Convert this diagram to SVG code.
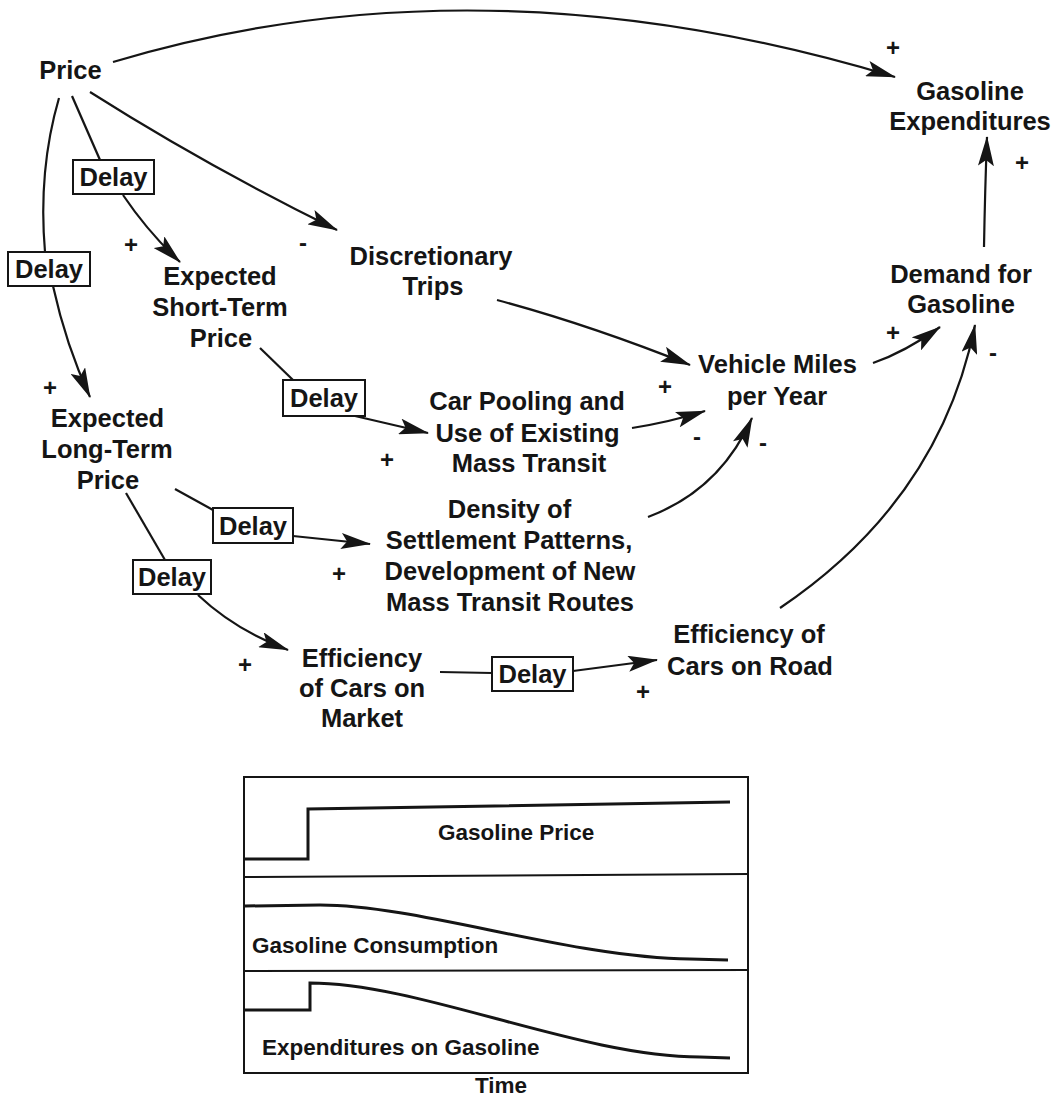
<svg xmlns="http://www.w3.org/2000/svg" width="1058" height="1097" viewBox="0 0 1058 1097">
<style>
text{font-family:"Liberation Sans",Arial,Helvetica,sans-serif;font-weight:bold;fill:#151515}
.n{font-size:25.5px;text-anchor:middle}
.s{font-size:24px;text-anchor:middle}
.c{font-size:22.5px}
.ln{fill:none;stroke:#151515;stroke-width:2.2}
.bx{fill:#fff;stroke:#151515;stroke-width:2}
.fr{fill:none;stroke:#151515;stroke-width:2}
.cv{fill:none;stroke:#151515;stroke-width:3}
</style>
<defs>
<marker id="ah" viewBox="0 0 30 16" refX="29" refY="8" markerWidth="30" markerHeight="16" markerUnits="userSpaceOnUse" orient="auto">
<path d="M0,0 L30,8 L0,16 L6,8 z" fill="#151515"/>
</marker>
</defs>
<rect width="1058" height="1097" fill="#fff"/>

<g id="connectors">
<path class="ln" d="M113,62 Q480,-48 895,77" marker-end="url(#ah)"/>
<path class="ln" d="M72,96 L100,160"/>
<path class="ln" d="M123,195 Q148,232 180,262" marker-end="url(#ah)"/>
<path class="ln" d="M59,98 Q38,170 45,252"/>
<path class="ln" d="M53,286 Q66,345 90,397" marker-end="url(#ah)"/>
<path class="ln" d="M90,92 Q205,165 337,230" marker-end="url(#ah)"/>
<path class="ln" d="M260,348 L293,380"/>
<path class="ln" d="M355,416 L428,433" marker-end="url(#ah)"/>
<path class="ln" d="M497,300 Q590,325 690,365" marker-end="url(#ah)"/>
<path class="ln" d="M632,428 Q670,422 705,411" marker-end="url(#ah)"/>
<path class="ln" d="M648,517 Q720,490 752,418" marker-end="url(#ah)"/>
<path class="ln" d="M873,363 Q905,352 940,327" marker-end="url(#ah)"/>
<path class="ln" d="M780,608 Q940,500 975,325" marker-end="url(#ah)"/>
<path class="ln" d="M984,247 Q985,190 987,137" marker-end="url(#ah)"/>
<path class="ln" d="M175,489 L213,510"/>
<path class="ln" d="M293,536 L370,544" marker-end="url(#ah)"/>
<path class="ln" d="M126,493 L165,560"/>
<path class="ln" d="M198,595 Q235,630 288,650" marker-end="url(#ah)"/>
<path class="ln" d="M440,672 L492,673"/>
<path class="ln" d="M573,671 L657,660" marker-end="url(#ah)"/>
</g>

<g id="signs">
<text class="s" x="893" y="56">+</text>
<text class="s" x="1022" y="171">+</text>
<text class="s" x="131" y="253">+</text>
<text class="s" x="303" y="251">-</text>
<text class="s" x="50" y="396">+</text>
<text class="s" x="665" y="395">+</text>
<text class="s" x="387" y="468">+</text>
<text class="s" x="697" y="445">-</text>
<text class="s" x="763" y="451">-</text>
<text class="s" x="893" y="341">+</text>
<text class="s" x="993" y="361">-</text>
<text class="s" x="339" y="582">+</text>
<text class="s" x="245" y="673">+</text>
<text class="s" x="643" y="700">+</text>
</g>

<g id="price"><text class="n" x="70.5" y="79">Price</text></g>
<g id="gasoline-expenditures"><text class="n" x="970" y="100">Gasoline</text><text class="n" x="970" y="130">Expenditures</text></g>
<g id="demand-for-gasoline"><text class="n" x="961" y="283">Demand for</text><text class="n" x="961" y="313">Gasoline</text></g>
<g id="vehicle-miles"><text class="n" x="777.5" y="373">Vehicle Miles</text><text class="n" x="777" y="405">per Year</text></g>
<g id="discretionary-trips"><text class="n" x="431" y="265">Discretionary</text><text class="n" x="433" y="295">Trips</text></g>
<g id="expected-short-term-price"><text class="n" x="220" y="285">Expected</text><text class="n" x="220" y="316">Short-Term</text><text class="n" x="221" y="347">Price</text></g>
<g id="car-pooling"><text class="n" x="527" y="410">Car Pooling and</text><text class="n" x="527.5" y="442">Use of Existing</text><text class="n" x="529" y="472">Mass Transit</text></g>
<g id="expected-long-term-price"><text class="n" x="107.5" y="427">Expected</text><text class="n" x="107" y="458">Long-Term</text><text class="n" x="108" y="489">Price</text></g>
<g id="density"><text class="n" x="509.5" y="518">Density of</text><text class="n" x="509" y="549">Settlement Patterns,</text><text class="n" x="510" y="580">Development of New</text><text class="n" x="510" y="611">Mass Transit Routes</text></g>
<g id="efficiency-market"><text class="n" x="362" y="667">Efficiency</text><text class="n" x="362" y="697">of Cars on</text><text class="n" x="362" y="727">Market</text></g>
<g id="efficiency-road"><text class="n" x="749" y="643">Efficiency of</text><text class="n" x="750" y="675">Cars on Road</text></g>

<g id="delay1"><rect class="bx" x="73" y="160" width="81" height="34"/><text class="n" x="113.5" y="186">Delay</text></g>
<g id="delay2"><rect class="bx" x="8" y="252" width="82" height="34"/><text class="n" x="49" y="278">Delay</text></g>
<g id="delay3"><rect class="bx" x="283" y="380" width="82" height="36"/><text class="n" x="324" y="407">Delay</text></g>
<g id="delay4"><rect class="bx" x="213" y="508" width="80" height="35"/><text class="n" x="253" y="535">Delay</text></g>
<g id="delay5"><rect class="bx" x="133" y="560" width="78" height="34"/><text class="n" x="172" y="586">Delay</text></g>
<g id="delay6"><rect class="bx" x="492" y="657" width="81" height="34"/><text class="n" x="532.5" y="683">Delay</text></g>

<g id="chart">
<rect class="fr" x="244" y="777" width="504" height="296"/>
<line class="fr" x1="244" y1="877" x2="748" y2="874"/>
<line class="fr" x1="244" y1="971" x2="748" y2="970"/>
<path class="cv" d="M245,859 L308,859 L308,809 L730,802"/>
<path class="cv" d="M245,906 L320,905 C420,905 570,958 690,959 L728,960"/>
<path class="cv" d="M245,1010 L310,1010 L310,983 C420,983 580,1057 700,1057 L730,1058"/>
<text class="c" x="438" y="840">Gasoline Price</text>
<text class="c" x="252" y="953">Gasoline Consumption</text>
<text class="c" x="262" y="1055">Expenditures on Gasoline</text>
<text class="c" x="475" y="1093">Time</text>
</g>
</svg>
